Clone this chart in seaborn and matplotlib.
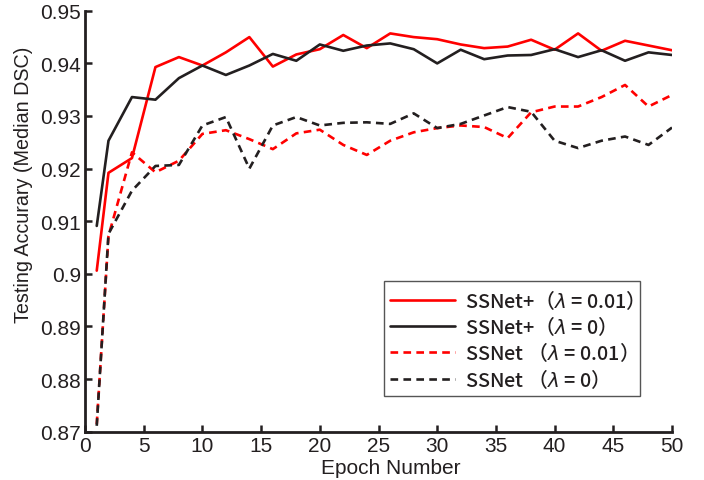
import matplotlib
matplotlib.use("Agg")
import matplotlib.pyplot as plt
import seaborn as sns
import pandas as pd

# ---- data ----
epochs = [1, 2, 4, 6, 8, 10, 12, 14, 16, 18, 20, 22, 24, 26,
          28, 30, 32, 34, 36, 38, 40, 42, 44, 46, 48, 50]

ssnet_plus_l001 = [0.9006, 0.9192, 0.9220, 0.9393, 0.9412, 0.9396, 0.9421, 0.9450,
                   0.9394, 0.9417, 0.9427, 0.9454, 0.9429, 0.9457, 0.9450, 0.9446,
                   0.9436, 0.9429, 0.9432, 0.9445, 0.9426, 0.9457, 0.9424, 0.9443,
                   0.9434, 0.9425]
ssnet_plus_l0 = [0.9091, 0.9253, 0.9336, 0.9331, 0.9372, 0.9396, 0.9378, 0.9396,
                 0.9418, 0.9405, 0.9436, 0.9424, 0.9434, 0.9438, 0.9427, 0.9400,
                 0.9426, 0.9408, 0.9415, 0.9416, 0.9427, 0.9412, 0.9425, 0.9405,
                 0.9421, 0.9416]
ssnet_l001 = [0.8714, 0.9072, 0.9231, 0.9193, 0.9215, 0.9266, 0.9273, 0.9256,
              0.9237, 0.9267, 0.9274, 0.9245, 0.9226, 0.9253, 0.9269, 0.9277,
              0.9282, 0.9279, 0.9258, 0.9307, 0.9318, 0.9318, 0.9336, 0.9359,
              0.9318, 0.9340]
ssnet_l0 = [0.8711, 0.9076, 0.9158, 0.9205, 0.9207, 0.9282, 0.9298, 0.9200,
            0.9282, 0.9298, 0.9282, 0.9287, 0.9288, 0.9285, 0.9305, 0.9277,
            0.9285, 0.9301, 0.9317, 0.9308, 0.9253, 0.9239, 0.9253, 0.9261,
            0.9245, 0.9278]

series_labels = [r"SSNet+（$\lambda$ = 0.01）",
                 r"SSNet+（$\lambda$ = 0）",
                 r"SSNet （$\lambda$ = 0.01）",
                 r"SSNet （$\lambda$ = 0）"]
x_ticks = [0, 5, 10, 15, 20, 25, 30, 35, 40, 45, 50]
y_ticks = [0.87, 0.88, 0.89, 0.90, 0.91, 0.92, 0.93, 0.94, 0.95]
y_tick_labels = ["0.87", "0.88", "0.89", "0.9", "0.91", "0.92", "0.93", "0.94", "0.95"]

# ---- styling ----
sns.set_style("ticks")
INK = "#231F20"
RED = "#FF0000"
plt.rcParams["font.family"] = ["Liberation Sans", "DejaVu Sans"]
plt.rcParams["text.color"] = INK
plt.rcParams["axes.labelcolor"] = INK
plt.rcParams["xtick.color"] = INK
plt.rcParams["ytick.color"] = INK
plt.rcParams["axes.edgecolor"] = INK
plt.rcParams["mathtext.fontset"] = "dejavusans"

fig = plt.figure(figsize=(7.04, 4.81), dpi=100)
ax = fig.add_axes([85 / 704, 1 - 432.6 / 481, (672 - 85) / 704, (432.6 - 11.8) / 481])

all_series = [ssnet_plus_l001, ssnet_plus_l0, ssnet_l001, ssnet_l0]
colors = [RED, INK, RED, INK]
dashes = [None, None, (2.9, 2.0), (2.9, 2.0)]

for vals, lab, col, dsh in zip(all_series, series_labels, colors, dashes):
    df = pd.DataFrame({"epoch": epochs, "acc": vals})
    sns.lineplot(data=df, x="epoch", y="acc", ax=ax, color=col, lw=1.9,
                 label=lab, legend=False)
    line = ax.lines[-1]
    if dsh is not None:
        line.set_dashes(dsh)

ax.set_xlim(0, 50)
ax.set_ylim(0.87, 0.95)
ax.set_xticks(x_ticks)
ax.set_xticklabels([str(t) for t in x_ticks])
ax.set_yticks(y_ticks)
ax.set_yticklabels(y_tick_labels)
ax.tick_params(direction="in", length=5, width=1.8, labelsize=15, pad=3)
for s in ["top", "right"]:
    ax.spines[s].set_visible(False)
for s in ["left", "bottom"]:
    ax.spines[s].set_linewidth(2.0)

ax.set_xlabel("Epoch Number", fontsize=15, labelpad=1)
ax.xaxis.set_label_coords(0.521, -0.062, transform=ax.transAxes)
ax.xaxis.label.set_va("top")
ax.set_ylabel("Testing Accurary (Median DSC)", fontsize=14.2)
ax.yaxis.set_label_coords(-0.088, 0.59, transform=ax.transAxes)

handles = ax.lines[:4]
leg = ax.legend(handles, series_labels, loc="upper left",
                bbox_to_anchor=(0.509, 0.358), frameon=True, fancybox=False,
                framealpha=1, edgecolor="#555555", borderpad=0.3,
                labelspacing=0.12, handlelength=3.3, handletextpad=0.5,
                borderaxespad=0,
                prop={"family": "Noto Sans CJK JP", "size": 14.3, "weight": "medium"})
leg.get_frame().set_linewidth(1.0)
for t in leg.get_texts():
    t.set_color(INK)

fig.savefig("out.png", dpi=100)
